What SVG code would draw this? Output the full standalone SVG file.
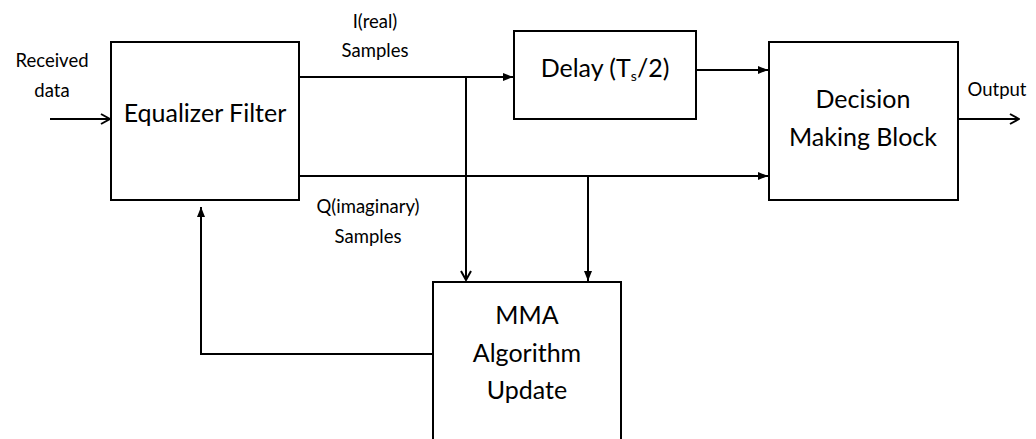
<svg xmlns="http://www.w3.org/2000/svg" width="1036" height="439" viewBox="0 0 1036 439">
<style>
.box{fill:#fff;stroke:#000;stroke-width:2}
.ln{fill:none;stroke:#000;stroke-width:2}
.big{font-family:Lato,"Liberation Sans",sans-serif;font-size:25px;fill:#000;text-anchor:middle}
.sm{font-family:Lato,"Liberation Sans",sans-serif;font-size:18.5px;fill:#000;text-anchor:middle}
</style>
<defs>
<marker id="tri" viewBox="0 0 10 10" refX="10" refY="5" markerWidth="10" markerHeight="10" markerUnits="userSpaceOnUse" orient="auto">
<path d="M0,1 L10,5 L0,9 Z" fill="#000"/>
</marker>
<marker id="chev" viewBox="0 0 12 12" refX="11" refY="6" markerWidth="12" markerHeight="12" markerUnits="userSpaceOnUse" orient="auto">
<path d="M2,1 L11,6 L2,11" fill="none" stroke="#000" stroke-width="2"/>
</marker>
</defs>
<rect width="1036" height="439" fill="#fff"/>
<g id="connectors">
<line class="ln" x1="50" y1="119" x2="110" y2="119" marker-end="url(#chev)"/>
<line class="ln" x1="299" y1="77" x2="513" y2="77" marker-end="url(#tri)"/>
<line class="ln" x1="696" y1="70" x2="768" y2="70" marker-end="url(#tri)"/>
<line class="ln" x1="299" y1="176" x2="768" y2="176" marker-end="url(#tri)"/>
<line class="ln" x1="466" y1="77" x2="466" y2="280" marker-end="url(#chev)"/>
<line class="ln" x1="588" y1="176" x2="588" y2="281" marker-end="url(#tri)"/>
<line class="ln" x1="956" y1="119" x2="1019" y2="119" marker-end="url(#chev)"/>
<polyline class="ln" points="433,354 201,354 201,207" marker-end="url(#tri)"/>
</g>
<g id="equalizer">
<rect class="box" x="111" y="42" width="188" height="158"/>
<text class="big" x="205" y="122">Equalizer Filter</text>
</g>
<g id="delay">
<rect class="box" x="514" y="31" width="182" height="88"/>
<text class="big" x="605" y="77">Delay (T<tspan font-size="14" dy="4">s</tspan><tspan dy="-4">/2)</tspan></text>
</g>
<g id="decision">
<rect class="box" x="769" y="42" width="189" height="158"/>
<text class="big" x="863" y="108">Decision</text>
<text class="big" x="863" y="146">Making Block</text>
</g>
<g id="mma">
<rect class="box" x="433" y="282" width="188" height="170"/>
<text class="big" x="527" y="324">MMA</text>
<text class="big" x="527" y="362">Algorithm</text>
<text class="big" x="527" y="399">Update</text>
</g>
<g id="labels">
<text class="sm" x="52" y="67">Received</text>
<text class="sm" x="52" y="97">data</text>
<text class="sm" x="375" y="28">I(real)</text>
<text class="sm" x="375" y="57">Samples</text>
<text class="sm" x="368" y="213">Q(imaginary)</text>
<text class="sm" x="368" y="243">Samples</text>
<text class="sm" x="997" y="96">Output</text>
</g>
</svg>
